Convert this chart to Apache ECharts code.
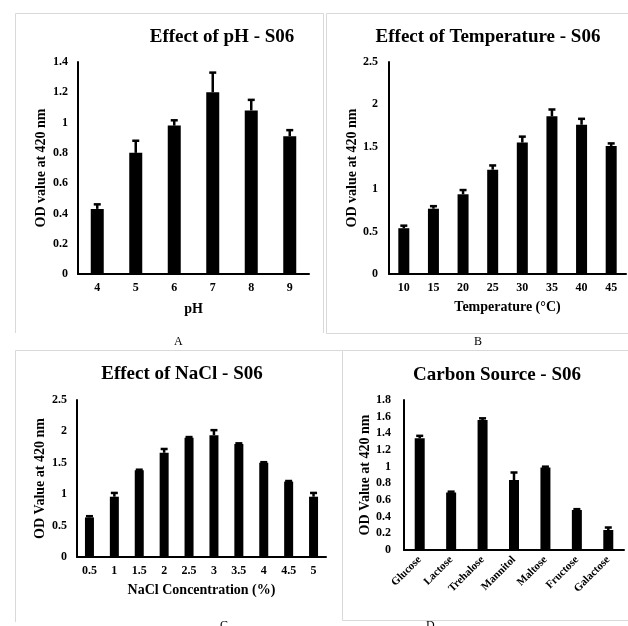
<!DOCTYPE html>
<html><head><meta charset="utf-8">
<script src="https://cdn.jsdelivr.net/npm/echarts@6/dist/echarts.min.js"></script>
<style>html,body{margin:0;padding:0;background:#fff}#c{width:628px;height:626px}</style>
</head><body><div id="c"></div>
<script>
const phCategories = ['4','5','6','7','8','9'];
const phValues = [0.43, 0.80, 0.98, 1.20, 1.08, 0.91];
const phErrors = [0.03, 0.08, 0.035, 0.13, 0.07, 0.04];

const tempCategories = ['10','15','20','25','30','35','40','45'];
const tempValues = [0.54, 0.77, 0.94, 1.23, 1.55, 1.86, 1.76, 1.51];
const tempErrors = [0.03, 0.03, 0.05, 0.05, 0.07, 0.08, 0.07, 0.03];

const naclCategories = ['0.5','1','1.5','2','2.5','3','3.5','4','4.5','5'];
const naclValues = [0.63, 0.96, 1.38, 1.66, 1.90, 1.94, 1.80, 1.50, 1.20, 0.96];
const naclErrors = [0.02, 0.06, 0.01, 0.06, 0.01, 0.08, 0.01, 0.01, 0.01, 0.06];

const carbonCategories = ['Glucose','Lactose','Trehalose','Mannitol','Maltose','Fructose','Galactose'];
const carbonValues = [1.34, 0.69, 1.56, 0.84, 0.99, 0.48, 0.24];
const carbonErrors = [0.03, 0.01, 0.02, 0.09, 0.01, 0.01, 0.03];

const titles = ['Effect of pH - S06', 'Effect of Temperature - S06', 'Effect of NaCl - S06', 'Carbon Source - S06'];
const xNames = ['pH', 'Temperature (°C)', 'NaCl Concentration (%)', ''];
const yNames = ['OD value at 420 nm', 'OD value at 420 nm', 'OD Value at 420 nm', 'OD Value at 420 nm'];
const yMax = [1.4, 2.5, 2.5, 1.8];
const yInterval = [0.2, 0.5, 0.5, 0.2];
const panelLetters = ['A', 'B', 'C', 'D'];

const FONT = '"Liberation Serif", "Times New Roman", serif';
const chart = echarts.init(document.getElementById('c'), null, {renderer: 'canvas'});

const grids = [
  {left: 78, top: 62, width: 231, height: 212},
  {left: 389, top: 62, width: 237, height: 212},
  {left: 77, top: 400, width: 249, height: 157},
  {left: 404, top: 400, width: 220, height: 150}
];
const cats = [phCategories, tempCategories, naclCategories, carbonCategories];
const vals = [phValues, tempValues, naclValues, carbonValues];
const errs = [phErrors, tempErrors, naclErrors, carbonErrors];
const barW = [13, 11, 9, 10];
const yLabelMargin = [10, 11, 10, 13];
const xNameGap = [28, 26, 26, 0];

function errRender(params, api) {
  const x = api.value(0), v = api.value(1), e = api.value(2);
  const p0 = api.coord([x, v]);
  const p1 = api.coord([x, v + e]);
  const hw = 3.5;
  return {type: 'group', children: [
    {type: 'line', shape: {x1: p0[0], y1: p0[1], x2: p1[0], y2: p1[1]}, style: {stroke: '#000', lineWidth: 2.5}},
    {type: 'line', shape: {x1: p1[0] - hw, y1: p1[1], x2: p1[0] + hw, y2: p1[1]}, style: {stroke: '#000', lineWidth: 2.5}}
  ]};
}

const xAxis = [], yAxis = [], series = [];
for (let i = 0; i < 4; i++) {
  xAxis.push({
    type: 'category', gridIndex: i, data: cats[i],
    name: xNames[i], nameLocation: 'middle', nameGap: xNameGap[i],
    nameTextStyle: {fontFamily: FONT, fontWeight: 'bold', fontSize: 14, color: '#000'},
    axisLine: {lineStyle: {color: '#000', width: 2}},
    axisTick: {show: false},
    axisLabel: {fontFamily: FONT, fontWeight: 'bold', fontSize: i === 3 ? 11 : 12, color: '#000',
      margin: 8, rotate: i === 3 ? 45 : 0, interval: 0}
  });
  yAxis.push({
    type: 'value', gridIndex: i, min: 0, max: yMax[i], interval: yInterval[i],
    name: yNames[i], nameLocation: 'middle', nameGap: 30,
    nameTextStyle: {fontFamily: FONT, fontWeight: 'bold', fontSize: 14, color: '#000'},
    axisLine: {show: true, lineStyle: {color: '#000', width: 2}},
    axisTick: {show: false},
    splitLine: {show: false},
    axisLabel: {fontFamily: FONT, fontWeight: 'bold', fontSize: 12, color: '#000', margin: yLabelMargin[i]}
  });
  series.push({
    type: 'bar', xAxisIndex: i, yAxisIndex: i, data: vals[i], barWidth: barW[i],
    itemStyle: {color: '#000'}, silent: true, animation: false
  });
  series.push({
    type: 'custom', xAxisIndex: i, yAxisIndex: i, renderItem: errRender,
    data: vals[i].map((v, k) => [k, v, errs[i][k]]),
    encode: {x: 0, y: 1}, silent: true, animation: false, z: 3
  });
}

const titleCenters = [[217, 23], [483, 23], [177, 360], [492, 361]];
const title = titles.map((t, i) => ({
  text: t, left: titleCenters[i][0], top: titleCenters[i][1], textAlign: 'center',
  textStyle: {fontFamily: FONT, fontWeight: 'bold', fontSize: 19, color: '#000'}
}));

const borderStyle = {stroke: '#d9d9d9', lineWidth: 1};
function ln(x1, y1, x2, y2) {
  return {type: 'line', shape: {x1, y1, x2, y2}, style: borderStyle, silent: true};
}
const letterPos = [[178, 336], [478, 336], [224, 620], [430, 620]];
const graphic = [
  ln(15.5, 13.5, 323.5, 13.5), ln(15.5, 13.5, 15.5, 333), ln(323.5, 13.5, 323.5, 333),
  ln(326.5, 13.5, 628, 13.5), ln(326.5, 13.5, 326.5, 333.5), ln(326.5, 333.5, 628, 333.5),
  ln(15.5, 350.5, 342, 350.5), ln(15.5, 350.5, 15.5, 622),
  ln(342.5, 350.5, 628, 350.5), ln(342.5, 350.5, 342.5, 620.5), ln(342.5, 620.5, 628, 620.5)
].concat(panelLetters.map((l, i) => ({
  type: 'text', left: letterPos[i][0] - 4, top: letterPos[i][1], silent: true,
  style: {text: l, fontFamily: FONT, fontSize: 12, fill: '#000'}
})));

chart.setOption({
  animation: false,
  backgroundColor: '#fff',
  title, grid: grids, xAxis, yAxis, series, graphic
});
</script>
</body></html>
